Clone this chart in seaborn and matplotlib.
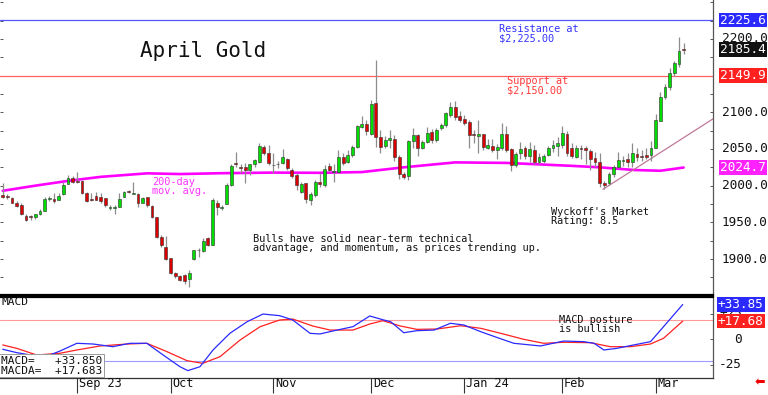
import numpy as np
import pandas as pd
import matplotlib
matplotlib.use("Agg")
import matplotlib.pyplot as plt
import seaborn as sns

# ---------------- data ----------------
opens = [1987, 1985.5, 1983, 1976, 1974, 1959, 1958, 1957, 1961, 1966,
         1982, 1982, 1981, 1988, 2002, 2010, 2007, 2006, 1989.5, 1982,
         1986, 1985, 1983, 1970, 1969, 1970.5, 1985, 1993, 1989, 1988,
         1977, 1984, 1972.5, 1957, 1929.5, 1917, 1901, 1881.5, 1877, 1878,
         1872.5, 1899.5, 1912, 1911, 1928, 1919, 1976.5, 1970, 1975, 2001,
         2031, 2026, 2025.5, 2021, 2029.5, 2032.5, 2053, 2045, 2027.5, 2029,
         2031, 2036, 2021.5, 2014.5, 1991.5, 2003, 1980.5, 1987, 2004.5, 2001,
         2026.5, 2019, 2019, 2038.5, 2032.5, 2041.5, 2053, 2080, 2084, 2071,
         2112, 2066, 2054, 2062, 2063, 2039.5, 2016, 2013, 2061, 2069,
         2052, 2060, 2073.5, 2062, 2078, 2082.5, 2096, 2107.5, 2095, 2091.5,
         2087, 2070, 2068, 2070, 2052, 2054, 2048.5, 2051, 2071, 2049.5,
         2028, 2044, 2051, 2040, 2048.5, 2032.5, 2034, 2041.5, 2051, 2054,
         2055, 2071, 2052, 2039.5, 2052, 2051, 2047.5, 2038, 2032.5, 2004,
         2004, 2016, 2025.5, 2034, 2036, 2032.5, 2043, 2040, 2041.5, 2041.5,
         2052, 2088.5, 2121, 2134, 2154, 2165.5, 2186.5]
highs = [2003, 1988, 1985, 1979, 1976, 1962, 1960, 1962, 1968, 1985,
         1986, 1990, 1990, 2005, 2014, 2013, 2019, 2008, 1992, 1990,
         1991, 1990, 1983.5, 1973.5, 1973.5, 1989.5, 1993, 1994, 2005, 1989.5,
         1985, 1985, 1973.5, 1957.5, 1932.5, 1931.5, 1901.5, 1882.5, 1878, 1879.5,
         1885, 1913, 1915, 1928, 1930, 1983, 1980.5, 1973.5, 2003, 2030,
         2046, 2030, 2030.5, 2030, 2037, 2057.5, 2055, 2055, 2044, 2034,
         2049.5, 2037.5, 2024, 2017, 2005, 2004, 1991.5, 2007.5, 2017, 2028,
         2031, 2030, 2048.5, 2044, 2048.5, 2055, 2082.5, 2095, 2090, 2116.5,
         2171, 2075.5, 2068, 2075.5, 2069, 2042, 2018, 2062.5, 2078, 2071,
         2062.5, 2080, 2077, 2078, 2085, 2101, 2114, 2115.5, 2102, 2096,
         2090, 2076, 2090, 2071, 2063, 2063, 2057, 2085, 2081, 2051,
         2046, 2059, 2054, 2059, 2055, 2044, 2043, 2054, 2062.5, 2066.5,
         2081, 2074, 2057.5, 2055, 2056, 2054, 2050, 2046, 2044, 2007,
         2018, 2027.5, 2046, 2040, 2044, 2057.5, 2051, 2048.5, 2051, 2061,
         2098, 2128, 2138, 2160, 2170.5, 2202, 2194]
lows = [1983, 1982, 1976, 1971, 1960, 1952, 1953, 1954, 1960, 1965,
        1979, 1976, 1980, 1987, 2002, 2003, 2003, 1988.5, 1978, 1979.5,
        1980, 1976, 1971, 1967, 1961, 1970.5, 1984, 1989.5, 1988.5, 1971,
        1976, 1971, 1955.5, 1928, 1917, 1898.5, 1880, 1873.5, 1870.5, 1866,
        1861.5, 1898.5, 1903, 1910, 1918, 1918.5, 1960, 1967, 1974.5, 1999.5,
        2026, 2017, 2003.5, 2014.5, 2025.5, 2031, 2041.5, 2028, 2017, 2024,
        2030, 2021.5, 2010, 1994, 1989.5, 1976, 1973.5, 1985, 1998.5, 1998.5,
        2020.5, 2005, 2017.5, 2028, 2030.5, 2039.5, 2052, 2078, 2069, 2069,
        2053, 2044, 2051, 2052, 2034, 2009, 2009, 2007.5, 2051, 2040,
        2050, 2058, 2058, 2060, 2076, 2080, 2094, 2090, 2087, 2083,
        2052, 2058, 2045, 2049, 2050, 2046, 2037, 2049, 2046, 2020,
        2025, 2037, 2037, 2032, 2030, 2030, 2031, 2040, 2046, 2040,
        2052, 2040, 2037.5, 2038, 2036, 2029, 2022, 2025, 1998.5, 1995,
        2001, 2012, 2024, 2027, 2026, 2025, 2034, 2033, 2037, 2034,
        2051, 2088, 2118, 2131, 2150, 2162, 2180]
closes = [1984, 1984.5, 1977, 1972, 1961, 1953, 1957, 1961, 1965, 1982,
          1983, 1979, 1986, 2001, 2010, 2004.5, 2004.5, 1989.5, 1979.5, 1980.5,
          1980.5, 1979.5, 1973.5, 1971, 1971, 1982.5, 1991.5, 1991, 1990, 1977,
          1983, 1973.5, 1957, 1929.5, 1919, 1899.5, 1880.5, 1877, 1871.5, 1870.5,
          1880.5, 1913, 1913, 1925, 1919, 1981, 1970.5, 1971, 2001, 2026.5,
          2029, 2024.5, 2022, 2029.5, 2035, 2054.5, 2044, 2031, 2028.5, 2030,
          2038.5, 2023.5, 2013, 2001, 2002, 1982.5, 1988.5, 2004.5, 2002, 2022.5,
          2021.5, 2020, 2038.5, 2030.5, 2041.5, 2053, 2081, 2084, 2074, 2111,
          2066, 2053, 2062, 2065, 2039.5, 2016, 2012, 2061, 2069, 2051.5,
          2060, 2072, 2062, 2075.5, 2082.5, 2098.5, 2107.5, 2094, 2089.5, 2085.5,
          2069, 2069, 2071, 2053, 2055, 2048.5, 2053, 2071, 2048.5, 2028,
          2043, 2049.5, 2040, 2049.5, 2032.5, 2038.5, 2040, 2051, 2055, 2057.5,
          2072, 2044, 2040, 2052, 2050, 2048.5, 2037, 2032.5, 2004, 2001,
          2016, 2025, 2035, 2035, 2032.5, 2044, 2038.5, 2038.5, 2038.5, 2052,
          2090, 2121, 2134.5, 2154, 2166.5, 2184, 2185.4]

# 200-day moving average (trading-day index, value)
ma_x = [0, 7, 14, 21, 31, 38, 47, 58, 68, 77, 86, 97, 108, 115, 122, 128, 135.5, 141, 146]
ma_y = [1993, 2000, 2006.5, 2012, 2016.8, 2015.8, 2017, 2017.8, 2017.5, 2018.5,
        2025, 2031.7, 2031, 2029, 2027, 2025, 2021.3, 2020.3, 2024.7]

# MACD line and its average (trading-day index, value)
macd_x = [0, 3, 7.3, 10.1, 12.3, 15.9, 19.4, 23.6, 27.3, 30.9, 34.4, 38, 39.7, 42.3,
          45.1, 48.7, 52.4, 55.8, 59.4, 62.2, 65.9, 68, 71.7, 75.1, 78.7, 81.7, 83.2,
          86, 88.8, 92.5, 96, 98.9, 102.5, 105.9, 109.6, 115.3, 120.3, 124.6, 126.8,
          128.9, 131.7, 135.3, 138.9, 141.7, 145.8]
macd_y = [-9.7, -13, -16.3, -15.3, -11.4, -3.9, -4.6, -7.2, -3.9, -3.9, -15.3, -26.7,
          -30.5, -26.7, -10.4, 5.8, 17.1, 24.6, 23, 18.8, 5.8, 5.2, 9, 12.3, 22.7, 18.8,
          17.1, 6.4, 8.4, 9, 15.6, 13.9, 7.4, 1.9, -3.9, -6.5, -1.7, -2.3, -3.9, -10.4,
          -8.8, -5.5, -2.3, 12.3, 33.85]
signal_x = [0, 3, 7.3, 12.3, 15.9, 20.9, 26.6, 30.9, 35.2, 39.5, 42.9, 46.6, 50.9,
            55.2, 59.4, 62.2, 66.5, 70.2, 75.1, 78.7, 81.5, 85.3, 88.8, 93.1, 98.2,
            102.5, 106.8, 111.7, 116, 120.3, 126, 130.3, 134.6, 138.9, 141.7, 145.8]
signal_y = [-5.5, -8.8, -15.3, -13.6, -10.4, -6.5, -4.6, -3.9, -12, -20.8, -23.4, -16.9,
            -0.7, 12.3, 18.8, 19.7, 12.9, 9, 9, 14.9, 18.1, 12.9, 9.7, 10, 13.2, 10.7,
            5.8, 0, -3.9, -2.9, -3.3, -7.2, -7.2, -4.6, 1, 17.68]

trend_x = [128.7, 152.3]
trend_y = [1995, 2091]

resistance = 2225.6
support = 2149.9
last_price = 2185.4
ma_last = 2024.7
macd_last = 33.850
signal_last = 17.683
macd_hi = 19
macd_lo = -21

month_pos = [16, 36, 58, 79, 99, 120, 140]
month_labels = ["Sep 23", "Oct", "Nov", "Dec", "Jan 24", "Feb", "Mar"]
price_labels = [1900, 1950, 2000, 2050, 2100, 2200]
macd_labels = [25, 0, -25]

# ---------------- figure ----------------
sns.set_style("white")
plt.rcParams["font.family"] = ["DejaVu Sans Mono", "DejaVu Sans"]

W, H = 768, 395
fig = plt.figure(figsize=(W / 100, H / 100), dpi=100)
fig.patch.set_facecolor("white")

AX_W = 713
ax = fig.add_axes([0, 1 - 295 / H, AX_W / W, 295 / H])
ax2 = fig.add_axes([0, 1 - 378 / H, AX_W / W, 81 / H])

XL = (-0.58, 152.3)

df = pd.DataFrame({"x": np.arange(len(opens)), "open": opens, "high": highs,
                   "low": lows, "close": closes})
up = df["close"] >= df["open"]

# horizontal support / resistance lines
ax.axhline(resistance, color="#5555ff", lw=0.9, zorder=1)
ax.axhline(support, color="#ff6060", lw=0.9, zorder=1)

# 200-day MA
sns.lineplot(x=ma_x, y=ma_y, ax=ax, color="#ff00ff", lw=1.9, estimator=None,
             sort=False, zorder=2)

# candles
ax.vlines(df["x"], df["low"], df["high"], color="#8c8c8c", lw=0.9, zorder=3)
bottom = np.minimum(df["open"], df["close"])
height = np.maximum((df["close"] - df["open"]).abs(), 0.9)
ax.bar(df["x"], height, bottom=bottom, width=0.62,
       color=np.where(up, "#00dd00", "#dd0000"), edgecolor="#303030",
       linewidth=0.4, zorder=4)

# trend line
sns.lineplot(x=trend_x, y=trend_y, ax=ax, color="#c07898", lw=0.9, zorder=2)

ax.set_xlim(*XL)
ax.set_ylim(1851, 2253)
ax.set_yticks(np.arange(1875, 2251, 25))
ax.tick_params(axis="y", left=True, right=True, direction="in", length=2.5,
               width=0.7, color="#555555", labelleft=False, labelright=False)
ax.tick_params(axis="x", bottom=False, labelbottom=False)
ax.set_xlabel("")
ax.set_ylabel("")
for s in ["top", "left"]:
    ax.spines[s].set_visible(False)
ax.spines["right"].set_color("#555555")
ax.spines["right"].set_linewidth(0.9)
ax.spines["bottom"].set_color("black")
ax.spines["bottom"].set_linewidth(1.6)

# right-hand price labels
ytr = ax.get_yaxis_transform()
for v in price_labels:
    ax.text(722 / AX_W, v, f"{v:.1f}", transform=ytr, ha="left", va="center",
            fontsize=9.2, color="#111111", clip_on=False, zorder=3)
for v, c in [(resistance, "#2a2aff"), (last_price, "#111111"),
             (support, "#ff2020"), (ma_last, "#ff22ff")]:
    ax.text(720 / AX_W, v, f"{v:.1f}", transform=ytr, ha="left", va="center",
            fontsize=9.2, color="white", clip_on=False, zorder=6,
            bbox=dict(boxstyle="square,pad=0.06", fc=c, ec="none"))

# ---------------- MACD panel ----------------
ax2.axhline(macd_hi, color="#ff9a9a", lw=0.8, zorder=1)
ax2.axhline(macd_lo, color="#9a9aff", lw=0.8, zorder=1)
sns.lineplot(x=signal_x, y=signal_y, ax=ax2, color="#ff2020", lw=0.9,
             estimator=None, sort=False, zorder=2)
sns.lineplot(x=macd_x, y=macd_y, ax=ax2, color="#2a2aff", lw=0.9,
             estimator=None, sort=False, zorder=3)
ax2.set_xlim(*XL)
ax2.set_ylim(-37.7, 41.2)
ax2.set_yticks(macd_labels)
ax2.tick_params(axis="y", left=False, right=True, direction="in", length=2.5,
                width=0.7, color="#555555", labelleft=False, labelright=False)
ax2.set_xticks(month_pos)
ax2.set_xticklabels([])
ax2.tick_params(axis="x", bottom=True, direction="out", length=10.5, width=0.8,
                color="#333333")
ax2.set_xlabel("")
ax2.set_ylabel("")
ax2.spines["left"].set_visible(False)
ax2.spines["top"].set_color("black")
ax2.spines["top"].set_linewidth(1.6)
ax2.spines["right"].set_color("#555555")
ax2.spines["right"].set_linewidth(0.9)
ax2.spines["bottom"].set_color("#333333")
ax2.spines["bottom"].set_linewidth(0.9)

xtr = ax2.get_xaxis_transform()
for p, lab in zip(month_pos, month_labels):
    ax2.text(p + 0.35, -(383.5 - 378) / 81, lab, transform=xtr, ha="left",
             va="center", fontsize=8.6, color="#111111", clip_on=False)

ytr2 = ax2.get_yaxis_transform()
for v in macd_labels:
    lab = f"{v:+d}" if v != 0 else "0"
    ax2.text(742 / AX_W, v, lab, transform=ytr2, ha="right", va="center",
             fontsize=9.2, color="#111111", clip_on=False, zorder=3)
for v, c in [(macd_last, "#2a2aff"), (signal_last, "#ff2020")]:
    ax2.text(718 / AX_W, v, f"{v:+.2f}", transform=ytr2, ha="left", va="center",
             fontsize=9.2, color="white", clip_on=False, zorder=6,
             bbox=dict(boxstyle="square,pad=0.06", fc=c, ec="none"))


def ftext(x, y, s, **kw):
    fig.text(x / W, 1 - y / H, s, **kw)


ftext(140, 51, "April Gold", fontsize=15, ha="left", va="center", color="#111111")
ftext(499, 24, "Resistance at\n$2,225.00", fontsize=7.4, ha="left", va="top",
      color="#3333ff", linespacing=0.92)
ftext(507, 76, "Support at\n$2,150.00", fontsize=7.4, ha="left", va="top",
      color="#ff3a3a", linespacing=0.92)
ftext(152, 177, "200-day\nmov. avg.", fontsize=7.4, ha="left", va="top",
      color="#ff33ff", linespacing=0.92)
ftext(253, 234, "Bulls have solid near-term technical\n"
      "advantage, and momentum, as prices trending up.", fontsize=7.4,
      ha="left", va="top", color="#111111", linespacing=0.92)
ftext(551, 207, "Wyckoff's Market\nRating: 8.5", fontsize=7.4, ha="left",
      va="top", color="#111111", linespacing=0.92)
ftext(559, 315, "MACD posture\nis bullish", fontsize=7.4, ha="left", va="top",
      color="#111111", linespacing=0.92)
ftext(1, 297, "MACD", fontsize=8, ha="left", va="top", color="#111111")
ftext(1, 356, f"MACD=   {macd_last:+.3f}\nMACDA=  {signal_last:+.3f}", fontsize=8,
      ha="left", va="top", color="#111111", linespacing=0.95,
      bbox=dict(boxstyle="square,pad=0.15", fc="white", ec="#999999", lw=0.7))
ftext(760, 383, "\u2b05", fontsize=9, ha="center", va="center", color="#ee0000",
      family="DejaVu Sans")

fig.savefig("out.png", dpi=100, facecolor="white")
